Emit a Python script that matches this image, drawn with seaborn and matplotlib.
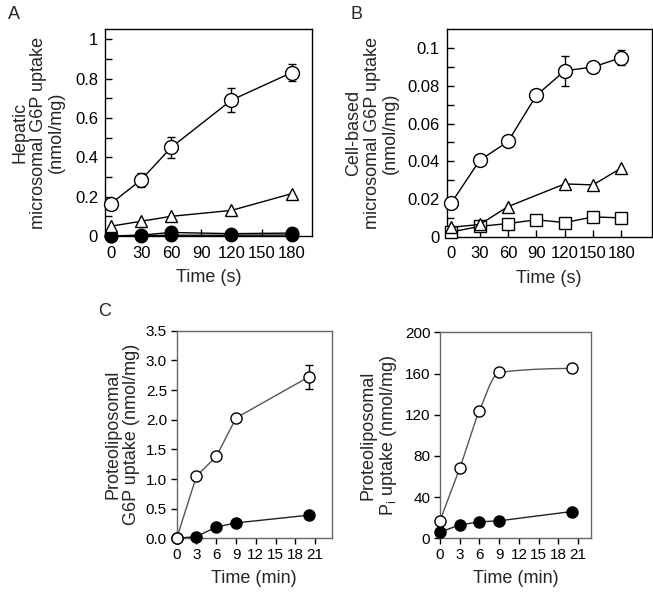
import numpy as np
import pandas as pd
import seaborn as sns
import matplotlib.pyplot as plt

sns.set_theme(style="ticks")
plt.rcParams["font.family"] = ["Liberation Sans", "DejaVu Sans"]
plt.rcParams["mathtext.fontset"] = "custom"
plt.rcParams["mathtext.rm"] = "Liberation Sans"
plt.rcParams["axes.linewidth"] = 1.0

# ---- panel A: hepatic microsomes ----
a_time = [0, 30, 60, 120, 180]
a_open = [0.165, 0.285, 0.45, 0.69, 0.83]
a_open_err = [0.0, 0.035, 0.055, 0.06, 0.045]
a_tri = [0.05, 0.075, 0.10, 0.13, 0.215]
a_fill = [0.0, 0.005, 0.018, 0.012, 0.015]
a_fill_low = [0.0, 0.002, 0.004, 0.004, 0.005]
a_yticks = [0, 0.2, 0.4, 0.6, 0.8, 1.0]
a_ylabels = ["0", "0.2", "0.4", "0.6", "0.8", "1"]

# ---- panel B: cell-based microsomes ----
b_time = [0, 30, 60, 90, 120, 150, 180]
b_open = [0.018, 0.0405, 0.0505, 0.075, 0.088, 0.090, 0.095]
b_open_err = [0, 0, 0, 0, 0.008, 0, 0.004]
b_tri_time = [0, 30, 60, 120, 150, 180]
b_tri = [0.005, 0.0065, 0.016, 0.028, 0.0275, 0.0365]
b_sq = [0.0025, 0.0055, 0.007, 0.009, 0.0075, 0.0105, 0.010]
b_yticks = [0, 0.02, 0.04, 0.06, 0.08, 0.1]
b_ylabels = ["0", "0.02", "0.04", "0.06", "0.08", "0.1"]

# ---- panel C: proteoliposomes ----
c_time = [0, 3, 6, 9, 20]
c1_open = [0.0, 1.05, 1.38, 2.03, 2.72]
c1_open_err = [0, 0, 0, 0, 0.2]
c1_fill = [0.0, 0.03, 0.19, 0.26, 0.39]
c1_yticks = [0.0, 0.5, 1.0, 1.5, 2.0, 2.5, 3.0, 3.5]
c2_open = [17, 68, 124, 161, 165]
c2_fill = [6, 13, 16, 17, 26]
c2_yticks = [0, 40, 80, 120, 160, 200]
s_ticks = [0, 30, 60, 90, 120, 150, 180]
min_ticks = [0, 3, 6, 9, 12, 15, 18, 21]


def pchip(x, y, xs):
    # monotone cubic curve through the measured points (drawing only)
    x = np.asarray(x, float)
    y = np.asarray(y, float)
    h = np.diff(x)
    d = np.diff(y) / h
    m = np.zeros_like(y)
    for k in range(1, len(x) - 1):
        if d[k - 1] * d[k] > 0:
            w1 = 2 * h[k] + h[k - 1]
            w2 = h[k] + 2 * h[k - 1]
            m[k] = (w1 + w2) / (w1 / d[k - 1] + w2 / d[k])
    m[0] = d[0]
    m[-1] = d[-1] * 0.2
    out = []
    for xv in xs:
        k = min(np.searchsorted(x, xv) - 1, len(x) - 2)
        k = max(k, 0)
        t = (xv - x[k]) / h[k]
        h00 = 2 * t**3 - 3 * t**2 + 1
        h10 = t**3 - 2 * t**2 + t
        h01 = -2 * t**3 + 3 * t**2
        h11 = t**3 - t**2
        out.append(h00 * y[k] + h10 * h[k] * m[k] + h01 * y[k + 1] + h11 * h[k] * m[k + 1])
    return np.array(out)


def series(ax, x, y, marker, filled, ms, color="black", lw=1.0, ls="-"):
    sns.lineplot(x=x, y=y, ax=ax, color=color, lw=lw, ls=ls, marker=marker, ms=ms,
                 mfc="black" if filled else "white", mec="black", mew=1.0,
                 clip_on=False, zorder=3)


def errs(ax, x, y, e, cap=3):
    ax.errorbar(x, y, yerr=e, fmt="none", ecolor="black", elinewidth=1.0,
                capsize=cap, capthick=1.0, zorder=2, clip_on=False)


fig = plt.figure(figsize=(6.53, 5.93), dpi=100)

# panel A
axA = fig.add_axes([0.1608, 0.602, 0.3165, 0.3486])
errs(axA, a_time, a_open, a_open_err)
series(axA, a_time, a_fill_low, "o", True, 9)
series(axA, a_time, a_fill, "o", True, 9)
series(axA, a_time, a_tri, "^", False, 9)
series(axA, a_time, a_open, "o", False, 10)
axA.set_xlim(-6, 200)
axA.set_ylim(0, 1.05)
axA.set_xticks(s_ticks)
axA.set_yticks(a_yticks)
axA.set_yticklabels(a_ylabels)
axA.set_yticks([0.1, 0.3, 0.5, 0.7, 0.9], minor=True)
axA.set_ylabel("Hepatic\nmicrosomal G6P uptake\n(nmol/mg)", fontsize=13, linespacing=1.1, labelpad=7)
axA.set_xlabel("Time (s)", fontsize=13, labelpad=6)

# panel B
axB = fig.add_axes([0.684, 0.6008, 0.314, 0.3498])
errs(axB, b_time, b_open, b_open_err)
series(axB, b_time, b_sq, "s", False, 9)
series(axB, b_tri_time, b_tri, "^", False, 9)
series(axB, b_time, b_open, "o", False, 10)
axB.set_xlim(-5, 212)
axB.set_ylim(0, 0.11)
axB.set_xticks(s_ticks)
axB.set_yticks(b_yticks)
axB.set_yticklabels(b_ylabels)
axB.set_yticks([0.01, 0.03, 0.05, 0.07, 0.09], minor=True)
axB.set_ylabel("Cell-based\nmicrosomal G6P uptake\n(nmol/mg)", fontsize=13, linespacing=1.1, labelpad=6)
axB.set_xlabel("Time (s)", fontsize=13, labelpad=6)

for ax in (axA, axB):
    ax.tick_params(which="both", direction="in", length=5, width=1, labelsize=12,
                   colors="black", pad=5)
    ax.tick_params(axis="x", pad=7)
    for s in ax.spines.values():
        s.set_color("black")

# panel C left: G6P
axC1 = fig.add_axes([0.2706, 0.0922, 0.2374, 0.3501])
errs(axC1, c_time, c1_open, c1_open_err, cap=3)
series(axC1, c_time, c1_fill, "o", True, 8, color="#222222")
series(axC1, c_time, c1_open, "o", False, 8, color="#555555")
axC1.set_xlim(0, 23.5)
axC1.set_ylim(0, 3.5)
axC1.set_xticks(min_ticks)
axC1.set_yticks(c1_yticks)
axC1.set_yticklabels([f"{v:.1f}" for v in c1_yticks])
axC1.set_ylabel("Proteoliposomal\nG6P uptake (nmol/mg)", fontsize=13, linespacing=1.1, labelpad=4)
axC1.set_xlabel("Time (min)", fontsize=13, labelpad=6)

# panel C right: Pi
axC2 = fig.add_axes([0.6738, 0.0922, 0.2308, 0.3474])
xs = np.linspace(0, 20, 200)
axC2.plot(xs, pchip(c_time, c2_open, xs), color="#555555", lw=1.0, zorder=2)
series(axC2, c_time, c2_fill, "o", True, 8, color="#222222")
series(axC2, c_time, c2_open, "o", False, 8, ls="none")
axC2.set_xlim(0, 22.9)
axC2.set_ylim(0, 200)
axC2.set_xticks(min_ticks)
axC2.set_yticks(c2_yticks)
axC2.set_ylabel("Proteoliposomal\nP$_\\mathregular{i}$ uptake (nmol/mg)", fontsize=13, linespacing=1.1, labelpad=4)
axC2.set_xlabel("Time (min)", fontsize=13, labelpad=6)

for ax in (axC1, axC2):
    ax.tick_params(direction="out", length=4, width=1, labelsize=11,
                   colors="black", pad=3)
    for s in ax.spines.values():
        s.set_color("#666666")

fig.text(0.012, 0.975, "A", fontsize=13, va="center")
fig.text(0.536, 0.975, "B", fontsize=13, va="center")
fig.text(0.150, 0.474, "C", fontsize=13, va="center")

fig.savefig("out.png", dpi=100)
